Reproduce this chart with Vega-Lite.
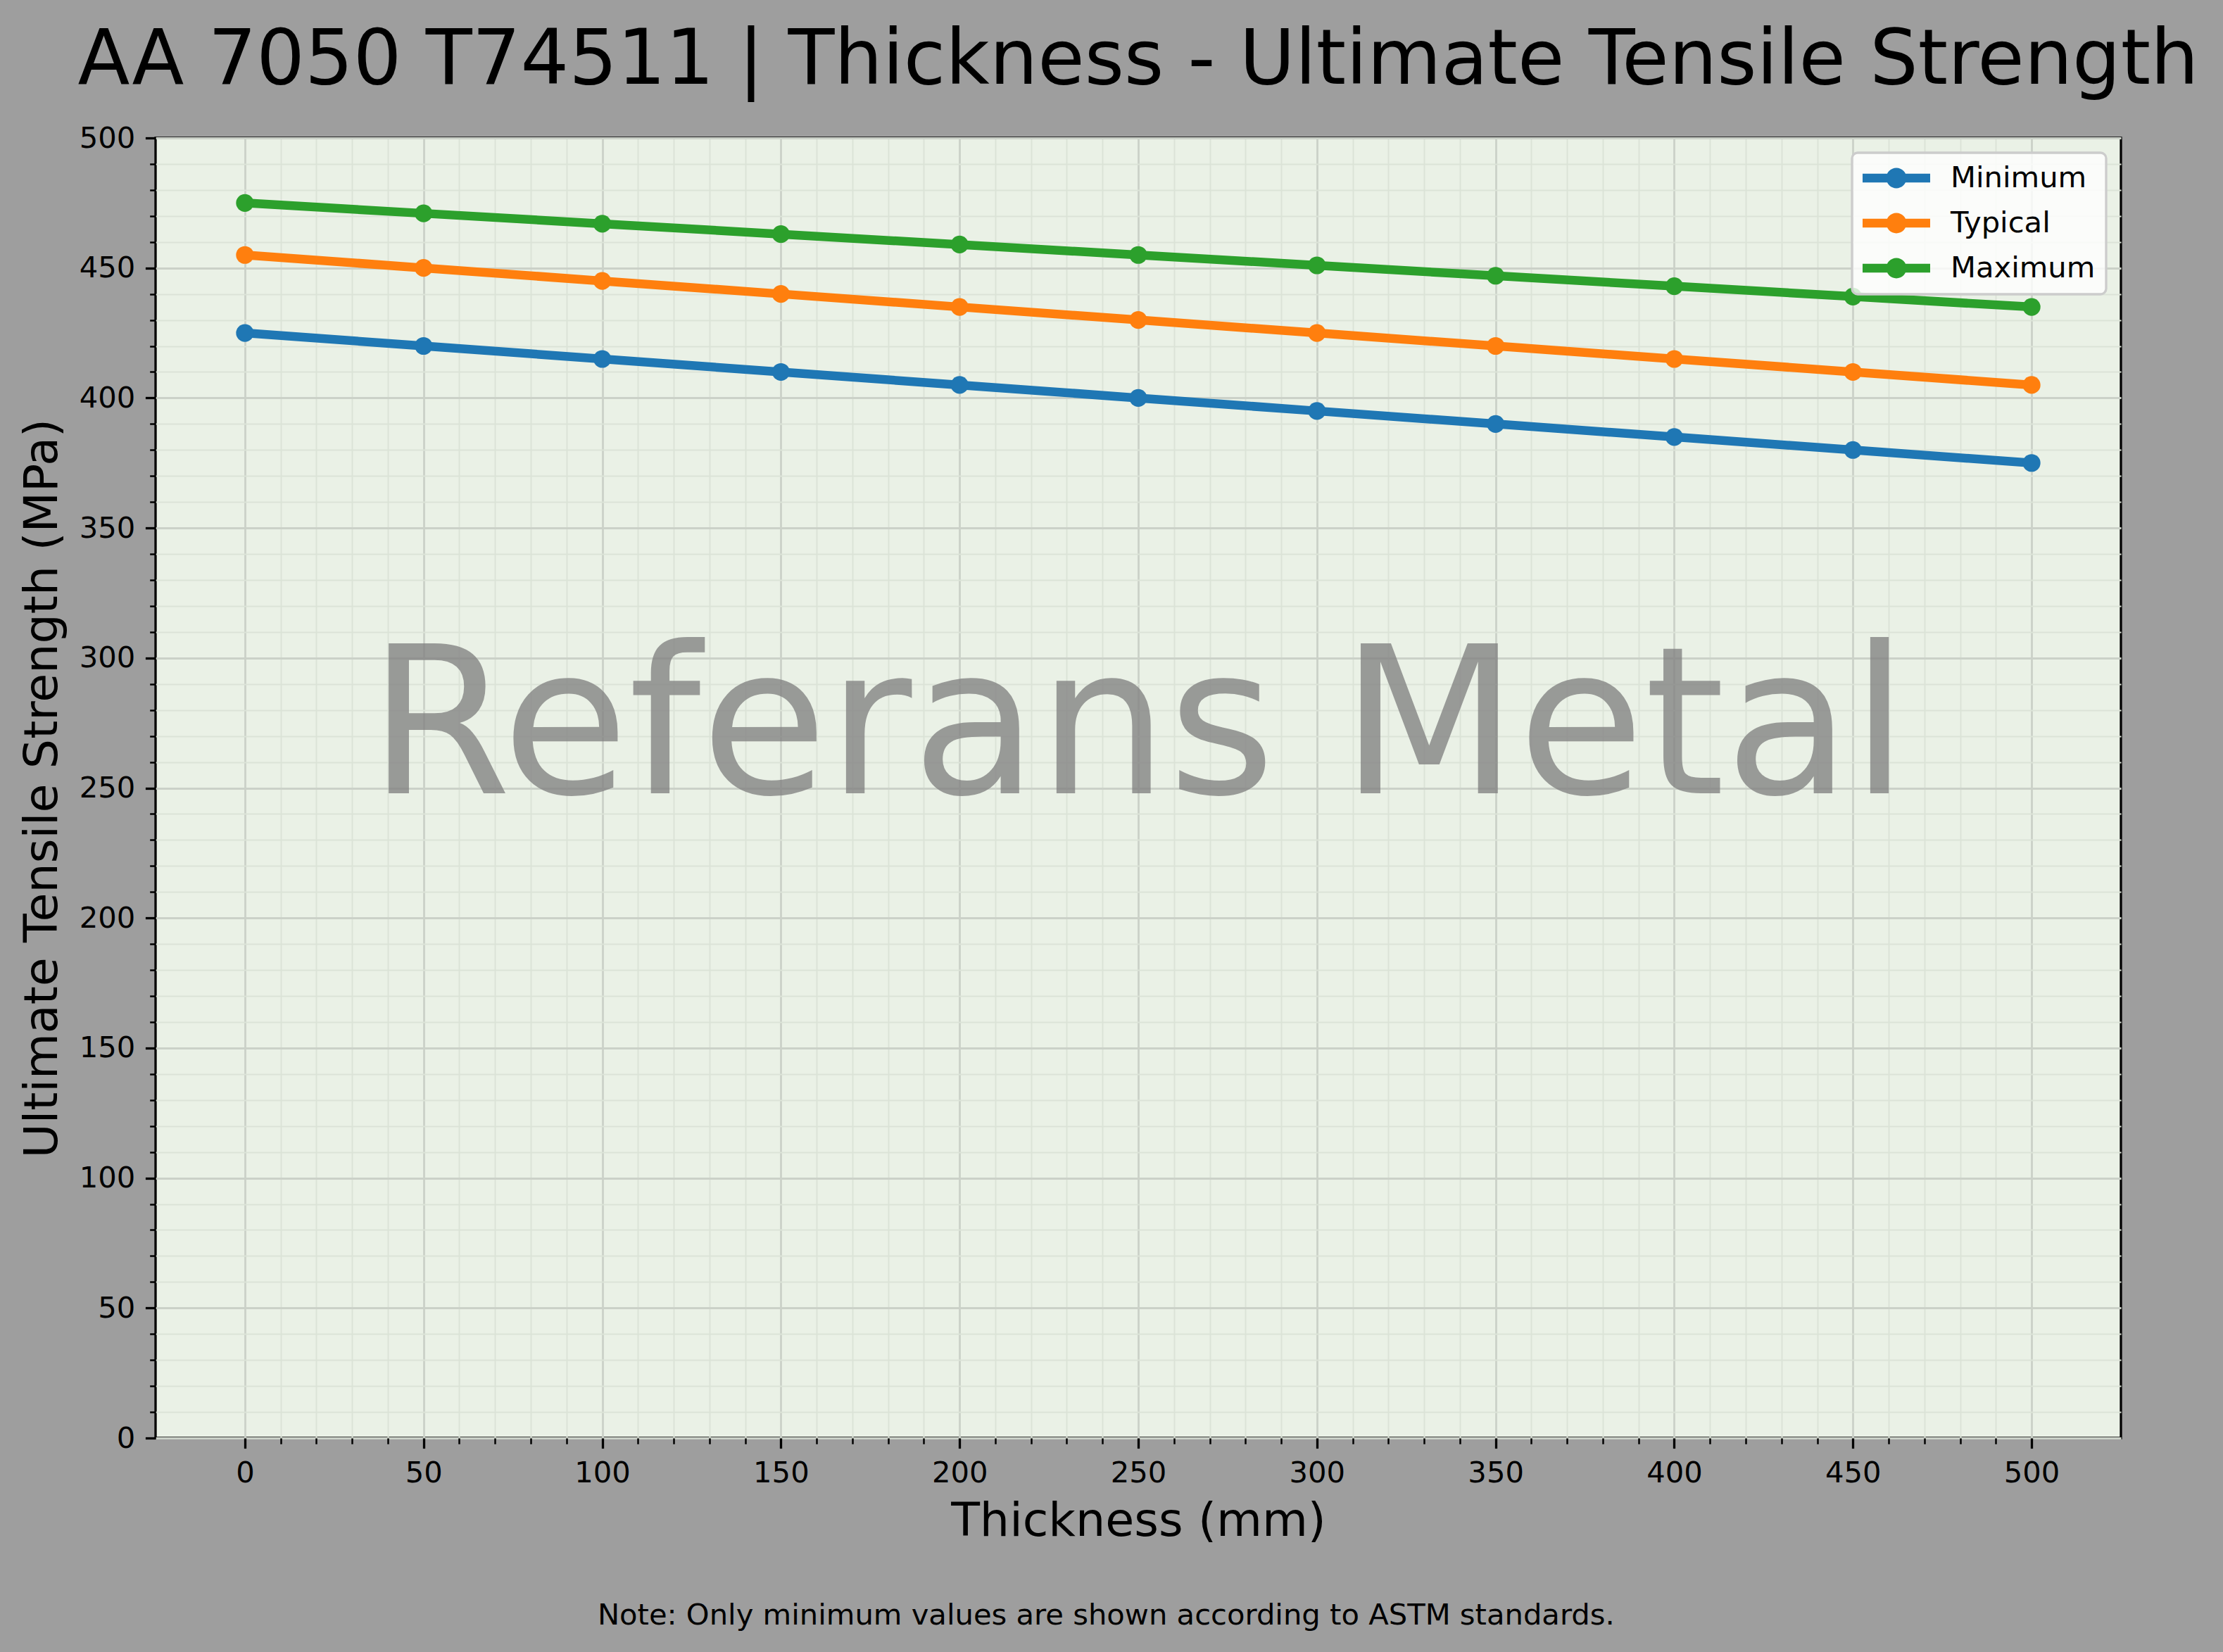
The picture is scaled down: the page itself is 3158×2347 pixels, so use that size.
{
  "$schema": "https://vega.github.io/schema/vega-lite/v6.json",
  "autosize": {"type": "none"},
  "padding": {"left": 221, "top": 196, "right": 145, "bottom": 304},
  "width": 2792,
  "height": 1847,
  "background": "#9e9e9e",
  "title": {
    "text": "AA 7050 T74511 | Thickness - Ultimate Tensile Strength",
    "font": "DejaVu Sans",
    "fontSize": 108,
    "fontWeight": "normal",
    "color": "black",
    "anchor": "middle",
    "baseline": "alphabetic",
    "offset": -51
  },
  "datasets": {
    "uts": [
      {"thickness": 0, "series": "Minimum", "uts": 425},
      {"thickness": 50, "series": "Minimum", "uts": 420},
      {"thickness": 100, "series": "Minimum", "uts": 415},
      {"thickness": 150, "series": "Minimum", "uts": 410},
      {"thickness": 200, "series": "Minimum", "uts": 405},
      {"thickness": 250, "series": "Minimum", "uts": 400},
      {"thickness": 300, "series": "Minimum", "uts": 395},
      {"thickness": 350, "series": "Minimum", "uts": 390},
      {"thickness": 400, "series": "Minimum", "uts": 385},
      {"thickness": 450, "series": "Minimum", "uts": 380},
      {"thickness": 500, "series": "Minimum", "uts": 375},
      {"thickness": 0, "series": "Typical", "uts": 455},
      {"thickness": 50, "series": "Typical", "uts": 450},
      {"thickness": 100, "series": "Typical", "uts": 445},
      {"thickness": 150, "series": "Typical", "uts": 440},
      {"thickness": 200, "series": "Typical", "uts": 435},
      {"thickness": 250, "series": "Typical", "uts": 430},
      {"thickness": 300, "series": "Typical", "uts": 425},
      {"thickness": 350, "series": "Typical", "uts": 420},
      {"thickness": 400, "series": "Typical", "uts": 415},
      {"thickness": 450, "series": "Typical", "uts": 410},
      {"thickness": 500, "series": "Typical", "uts": 405},
      {"thickness": 0, "series": "Maximum", "uts": 475},
      {"thickness": 50, "series": "Maximum", "uts": 471},
      {"thickness": 100, "series": "Maximum", "uts": 467},
      {"thickness": 150, "series": "Maximum", "uts": 463},
      {"thickness": 200, "series": "Maximum", "uts": 459},
      {"thickness": 250, "series": "Maximum", "uts": 455},
      {"thickness": 300, "series": "Maximum", "uts": 451},
      {"thickness": 350, "series": "Maximum", "uts": 447},
      {"thickness": 400, "series": "Maximum", "uts": 443},
      {"thickness": 450, "series": "Maximum", "uts": 439},
      {"thickness": 500, "series": "Maximum", "uts": 435}
    ],
    "watermark": [{"label": "Referans Metal"}],
    "note": [{"label": "Note: Only minimum values are shown according to ASTM standards."}]
  },
  "layer": [
    {
      "data": {"name": "watermark"},
      "mark": {"type": "text", "font": "DejaVu Sans", "fontSize": 292, "fill": "rgba(128,128,128,0.77)", "align": "center", "baseline": "alphabetic"},
      "encoding": {
        "x": {
          "datum": 250, "type": "quantitative",
          "scale": {"domain": [-25, 525], "nice": false, "zero": false},
          "axis": {
            "title": "Thickness (mm)",
            "values": [0,10,20,30,40,50,60,70,80,90,100,110,120,130,140,150,160,170,180,190,200,210,220,230,240,250,260,270,280,290,300,310,320,330,340,350,360,370,380,390,400,410,420,430,440,450,460,470,480,490,500],
            "tickCount": 200,
            "labelExpr": "datum.value % 50 === 0 ? datum.label : ''",
            "labelOverlap": false,
            "labelFontSize": {"condition": {"test": "datum.value % 50 === 0", "value": 41.7}, "value": 0},
            "tickSize": {"condition": {"test": "datum.value % 50 === 0", "value": 14.6}, "value": 8.3},
            "tickWidth": {"condition": {"test": "datum.value % 50 === 0", "value": 3.3}, "value": 2.5},
            "gridColor": {"condition": {"test": "datum.value % 50 === 0", "value": "#cbd1c8"}, "value": "#dbe3d7"},
            "gridWidth": {"condition": {"test": "datum.value % 50 === 0", "value": 2.8}, "value": 2}
          }
        },
        "y": {
          "datum": 248, "type": "quantitative",
          "scale": {"domain": [0, 500], "nice": false},
          "axis": {
            "title": "Ultimate Tensile Strength (MPa)",
            "values": [0,10,20,30,40,50,60,70,80,90,100,110,120,130,140,150,160,170,180,190,200,210,220,230,240,250,260,270,280,290,300,310,320,330,340,350,360,370,380,390,400,410,420,430,440,450,460,470,480,490,500],
            "tickCount": 200,
            "labelExpr": "datum.value % 50 === 0 ? datum.label : ''",
            "labelOverlap": false,
            "labelFontSize": {"condition": {"test": "datum.value % 50 === 0", "value": 41.7}, "value": 0},
            "tickSize": {"condition": {"test": "datum.value % 50 === 0", "value": 14.6}, "value": 8.3},
            "tickWidth": {"condition": {"test": "datum.value % 50 === 0", "value": 3.3}, "value": 2.5},
            "gridColor": {"condition": {"test": "datum.value % 50 === 0", "value": "#cbd1c8"}, "value": "#dbe3d7"},
            "gridWidth": {"condition": {"test": "datum.value % 50 === 0", "value": 2.8}, "value": 2},
            "titlePadding": 18
          }
        },
        "text": {"field": "label"}
      }
    },
    {
      "data": {"name": "uts"},
      "layer": [
        {
          "mark": {"type": "line", "strokeWidth": 12.5},
          "encoding": {
            "x": {
              "field": "thickness", "type": "quantitative",
              "scale": {"domain": [-25, 525], "nice": false, "zero": false},
              "axis": {
                "title": "Thickness (mm)",
                "values": [0,10,20,30,40,50,60,70,80,90,100,110,120,130,140,150,160,170,180,190,200,210,220,230,240,250,260,270,280,290,300,310,320,330,340,350,360,370,380,390,400,410,420,430,440,450,460,470,480,490,500],
                "tickCount": 200,
                "labelExpr": "datum.value % 50 === 0 ? datum.label : ''",
                "labelOverlap": false,
                "labelFontSize": {"condition": {"test": "datum.value % 50 === 0", "value": 41.7}, "value": 0},
                "tickSize": {"condition": {"test": "datum.value % 50 === 0", "value": 14.6}, "value": 8.3},
                "tickWidth": {"condition": {"test": "datum.value % 50 === 0", "value": 3.3}, "value": 2.5},
                "gridColor": {"condition": {"test": "datum.value % 50 === 0", "value": "#cbd1c8"}, "value": "#dbe3d7"},
                "gridWidth": {"condition": {"test": "datum.value % 50 === 0", "value": 2.8}, "value": 2}
              }
            },
            "y": {
              "field": "uts", "type": "quantitative",
              "scale": {"domain": [0, 500], "nice": false},
              "axis": {
                "title": "Ultimate Tensile Strength (MPa)",
                "values": [0,10,20,30,40,50,60,70,80,90,100,110,120,130,140,150,160,170,180,190,200,210,220,230,240,250,260,270,280,290,300,310,320,330,340,350,360,370,380,390,400,410,420,430,440,450,460,470,480,490,500],
                "tickCount": 200,
                "labelExpr": "datum.value % 50 === 0 ? datum.label : ''",
                "labelOverlap": false,
                "labelFontSize": {"condition": {"test": "datum.value % 50 === 0", "value": 41.7}, "value": 0},
                "tickSize": {"condition": {"test": "datum.value % 50 === 0", "value": 14.6}, "value": 8.3},
                "tickWidth": {"condition": {"test": "datum.value % 50 === 0", "value": 3.3}, "value": 2.5},
                "gridColor": {"condition": {"test": "datum.value % 50 === 0", "value": "#cbd1c8"}, "value": "#dbe3d7"},
                "gridWidth": {"condition": {"test": "datum.value % 50 === 0", "value": 2.8}, "value": 2},
                "titlePadding": 18
              }
            },
            "color": {
              "field": "series", "type": "nominal",
              "scale": {"domain": ["Minimum", "Typical", "Maximum"], "range": ["#1f77b4", "#ff7f0e", "#2ca02c"]},
              "legend": {
                "title": null,
                "orient": "top-right",
                "offset": 21,
                "symbolType": "M-1,-0.13H1V0.13H-1Z M0.3,0A0.3,0.3 0 1,1 -0.3,0A0.3,0.3 0 1,1 0.3,0Z",
                "symbolSize": 9216,
                "symbolStrokeWidth": 0,
                "clipHeight": 42,
                "rowPadding": 21,
                "labelOffset": 29,
                "labelFont": "DejaVu Sans",
                "labelFontSize": 41.7,
                "labelColor": "black",
                "labelLimit": 1000,
                "padding": 15,
                "fillColor": "rgba(255,255,255,0.8)",
                "strokeColor": "#cccccc",
                "cornerRadius": 8,
                "encode": {
                  "legend": {"update": {"strokeWidth": {"value": 3.3}}},
                  "symbols": {
                    "update": {
                      "fill": {"scale": "color", "field": "value"},
                      "stroke": {"value": "transparent"},
                      "strokeWidth": {"value": 0},
                      "opacity": {"value": 1}
                    }
                  }
                }
              }
            },
            "detail": {"field": "series"}
          }
        },
        {
          "mark": {"type": "point", "filled": true, "shape": "circle", "size": 633, "opacity": 1},
          "encoding": {
            "x": {"field": "thickness", "type": "quantitative"},
            "y": {"field": "uts", "type": "quantitative"},
            "color": {"field": "series", "type": "nominal"}
          }
        }
      ]
    },
    {
      "data": {"name": "note"},
      "mark": {"type": "text", "font": "DejaVu Sans", "fontSize": 41.7, "color": "black", "align": "center", "baseline": "alphabetic"},
      "encoding": {
        "x": {"datum": 241, "type": "quantitative"},
        "y": {"datum": -71.7, "type": "quantitative"},
        "text": {"field": "label"}
      }
    }
  ],
  "config": {
    "font": "DejaVu Sans",
    "view": {"fill": "#eaf1e6", "stroke": "black", "strokeWidth": 3.3},
    "axis": {
      "domain": false,
      "grid": true,
      "tickColor": "black",
      "labelFont": "DejaVu Sans",
      "labelColor": "black",
      "labelPadding": 14.6,
      "labelFlush": false,
      "labelOverlap": false,
      "labelBound": false,
      "titleFont": "DejaVu Sans",
      "titleFontSize": 66.7,
      "titleFontWeight": "normal",
      "titleColor": "black",
      "titlePadding": 15
    }
  }
}
